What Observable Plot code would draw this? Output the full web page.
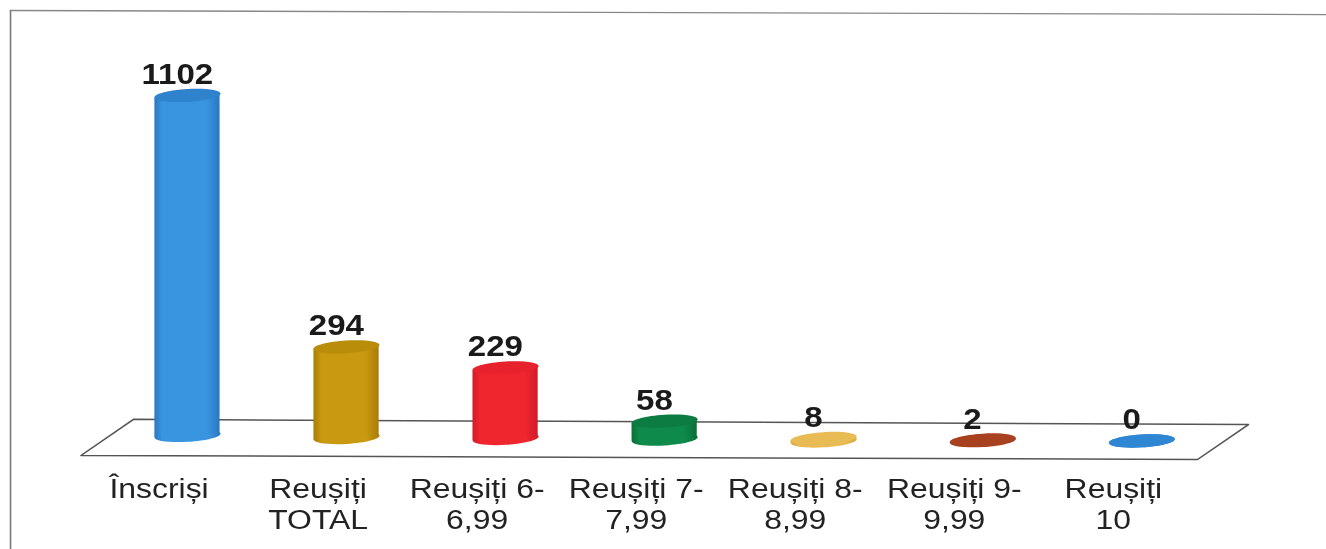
<!DOCTYPE html>
<html>
<head>
<meta charset="utf-8">
<script src="https://cdn.jsdelivr.net/npm/d3@7"></script>
<script src="https://cdn.jsdelivr.net/npm/@observablehq/plot@0.6"></script>
<style>
html,body{margin:0;padding:0;background:#fff;overflow:hidden}
svg{display:block}
</style>
</head>
<body>
<div id="chart"></div>
<script>
const categories = ["Înscriși","Reușiți\nTOTAL","Reușiți 6-\n6,99","Reușiți 7-\n7,99","Reușiți 8-\n8,99","Reușiți 9-\n9,99","Reușiți\n10"];
const values = [1102,294,229,58,8,2,0];
const baseLevels = [10,3,0,-2,-8,-7,-8];
const sideColors = ["#3a95e0","#c9990f","#f0262f","#0e8a4a","#e9bb55","#a8411f","#2f86d2"];
const edgeColors = ["#2a78c0","#a87c08","#d01c28","#0a6e3a","#d9a63e","#8f3416","#2470b8"];
const topColors = ["#2f82cc","#b98c0a","#e8222c","#0c7c42","#e9bb55","#a8411f","#2f86d2"];
const floorX = [-0.34,6.67,6.35,-0.67,-0.34];
const floorY = [62,45,-68,-55,62];
const frameX = [-1.113,-1.113];
const frameY = [-360,1387];
const frameTopX = [-1.113,7.16];
const frameTopY = [1387,1374];

const stretch = 1.14;
const rows = categories.map((name,i)=>({i,name,value:values[i],base:baseLevels[i],top:baseLevels[i]+values[i],
  side:`url(#cyl${i})`,topColor:topColors[i]}));
const halfWidth = 0.205;
const tilt = 7;
const sides = rows.flatMap(d=>[
  {i:d.i,x:d.i-halfWidth,y1:d.base-tilt,y2:d.top-tilt,side:d.side},
  {i:d.i,x:d.i+halfWidth,y1:d.base+tilt,y2:d.top+tilt,side:d.side}
]);

const ellipse = {draw(c,size){
  const rx=Math.sqrt(size/Math.PI), ry=rx*0.22, k=0.5523;
  c.moveTo(rx,0);
  c.bezierCurveTo(rx,k*ry,k*rx,ry,0,ry);
  c.bezierCurveTo(-k*rx,ry,-rx,k*ry,-rx,0);
  c.bezierCurveTo(-rx,-k*ry,-k*rx,-ry,0,-ry);
  c.bezierCurveTo(k*rx,-ry,rx,-k*ry,rx,0);
  c.closePath();
}};

const gradients = () => {
  const ns="http://www.w3.org/2000/svg";
  const defs=document.createElementNS(ns,"defs");
  sideColors.forEach((col,i)=>{
    const g=document.createElementNS(ns,"linearGradient");
    g.setAttribute("id",`cyl${i}`);
    [[0,edgeColors[i]],[0.12,col],[0.8,col],[1,edgeColors[i]]].forEach(([o,c])=>{
      const s=document.createElementNS(ns,"stop");
      s.setAttribute("offset",o);s.setAttribute("stop-color",c);g.appendChild(s);
    });
    defs.appendChild(g);
  });
  return defs;
};

const chart = Plot.plot({
  width: Math.round(1326/stretch),
  height: 549,
  marginLeft: 164,
  marginRight: 162,
  marginTop: 98,
  marginBottom: 111,
  x:{type:"linear",domain:[0,6],axis:null},
  y:{domain:[0,1102],axis:null},
  style:{fontFamily:"'Liberation Sans',Arial,sans-serif",background:"#fff",color:"#1c1c1c",overflow:"visible"},
  marks:[
    gradients,
    Plot.line(frameX.map((x,i)=>({x,y:frameY[i]})),{x:"x",y:"y",stroke:"#777",strokeWidth:1.4}),
    Plot.line(frameTopX.map((x,i)=>({x,y:frameTopY[i]})),{x:"x",y:"y",stroke:"#888",strokeWidth:1.4}),
    Plot.line(floorX.map((x,i)=>({x,y:floorY[i]})),{x:"x",y:"y",stroke:"#555",strokeWidth:1.5}),
    Plot.dot(rows,{x:"i",y:"base",r:29,symbol:ellipse,rotate:-4,fill:"side",stroke:"none"}),
    Plot.area(sides,{x1:"x",x2:"x",y1:"y1",y2:"y2",z:"i",fill:"side",stroke:"none"}),
    Plot.dot(rows,{x:"i",y:"top",r:29,symbol:ellipse,rotate:-4,fill:"topColor",stroke:"none"}),
    Plot.text(rows,{x:"i",y:"top",text:d=>String(d.value),dx:-9,dy:-11.5,lineAnchor:"bottom",fontSize:29,fontWeight:"bold",fill:"#1a1a1a"}),
    Plot.axisX({ticks:categories.map((_,i)=>i),tickFormat:i=>categories[i],tickSize:0,tickPadding:38,dx:-25,
      fontSize:28,lineHeight:1.1,lineAnchor:"top",textOverflow:null,fill:"#222",label:null})
  ]
});
chart.setAttribute("preserveAspectRatio","none");
chart.style.width="1326px";
chart.style.height="549px";
chart.style.maxWidth="none";
chart.style.filter="blur(0.45px)";
document.getElementById("chart").appendChild(chart);
</script>
</body>
</html>
